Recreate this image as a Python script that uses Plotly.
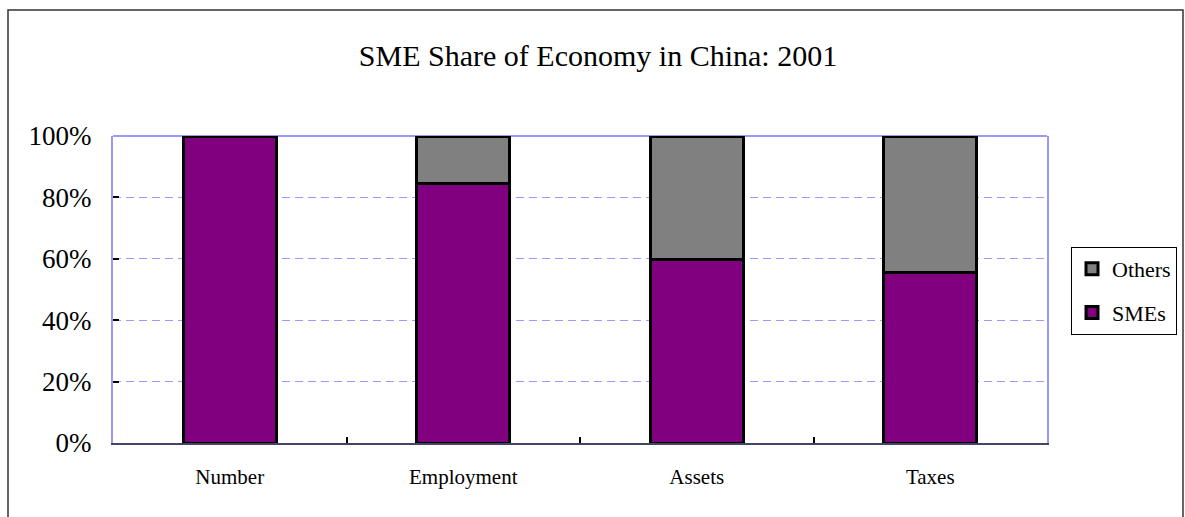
import plotly.graph_objects as go

categories = ["Number", "Employment", "Assets", "Taxes"]
smes = [99.8, 84.5, 59.8, 55.6]
others = [0.2, 15.5, 40.2, 44.4]
y_ticks = [0, 20, 40, 60, 80, 100]
y_tick_labels = ["0%", "20%", "40%", "60%", "80%", "100%"]

FONT = "Liberation Serif"
L, R, T, B = 113, 138, 136, 74
W, H = 1185, 517
pw, ph = W - L - R, H - T - B

fig = go.Figure()
fig.add_trace(go.Bar(x=categories, y=smes, name="SMEs", legendgroup="s", legendrank=2,
                     marker=dict(color="#800080", line=dict(color="black", width=3))))
fig.add_trace(go.Bar(x=categories, y=others, name="Others", legendgroup="o", legendrank=1,
                     marker=dict(color="#808080", line=dict(color="black", width=3))))

def px2x(px):
    return (px - L) / pw

def px2y(py):
    return (H - B - py) / ph

fig.update_layout(
    width=W, height=H,
    margin=dict(l=L, r=R, t=T, b=B, autoexpand=False),
    barmode="stack", bargap=0.6,
    paper_bgcolor="white", plot_bgcolor="white",
    font=dict(family=FONT, color="black"),
    title=dict(text="SME Share of Economy in China: 2001", x=598 / W, xanchor="center",
               y=1 - 55 / H, yanchor="middle", font=dict(family=FONT, size=30, color="black")),
    showlegend=True,
    legend=dict(traceorder="grouped", x=px2x(1071), xanchor="left", y=px2y(247), yanchor="top",
                bordercolor="black", borderwidth=1, bgcolor="white",
                font=dict(family=FONT, size=22, color="black"), itemwidth=30,
                tracegroupgap=12),
    xaxis=dict(type="category", showgrid=False, ticks="inside", tickson="boundaries",
               ticklen=6, tickcolor="black", tickwidth=1.5,
               showline=True, linecolor="#444466", linewidth=2,
               tickfont=dict(family=FONT, size=21, color="black"),
               ticklabelstandoff=14),
    yaxis=dict(range=[0, 100], tickvals=y_ticks, ticktext=y_tick_labels,
               showgrid=True, gridcolor="#9999ff", griddash="8px,5px", gridwidth=1.2,
               ticks="inside", ticklen=6, tickcolor="black", tickwidth=1.5,
               showline=True, linecolor="#9999ff", linewidth=2, mirror=True,
               tickfont=dict(family=FONT, size=27, color="black"),
               ticklabelstandoff=14, zeroline=False),
    shapes=[
        dict(type="line", xref="paper", yref="paper", x0=0, x1=1, y0=1, y1=1,
             line=dict(color="#9999ff", width=2), layer="below"),
        dict(type="rect", xref="paper", yref="paper",
             x0=px2x(8), x1=px2x(1183), y0=px2y(10), y1=px2y(530),
             line=dict(color="#333333", width=1.5), layer="below"),
    ],
)

fig.write_html("out.html")
